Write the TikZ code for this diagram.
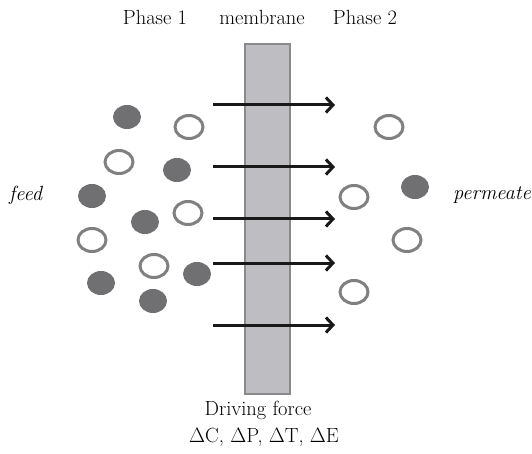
\documentclass[tikz,border=0pt]{standalone}
\usetikzlibrary{arrows.meta}
\definecolor{memfill}{RGB}{190,190,194}
\definecolor{memdraw}{RGB}{138,138,140}
\definecolor{dotfill}{RGB}{112,112,115}
\definecolor{ringcol}{RGB}{128,128,128}
\definecolor{arrcol}{RGB}{25,25,25}
\begin{document}
\begin{tikzpicture}[x=1pt,y=-1pt,
  lbl/.style={font=\fontsize{20.5}{22}\selectfont, inner sep=0pt},
  ilbl/.style={font=\fontsize{20.5}{22}\selectfont\itshape, inner sep=0pt},
  ring/.style={draw=ringcol, line width=3pt, fill=none},
  flow/.style={draw=arrcol, line width=3pt, -{Straight Barb[length=7pt,width=15pt,line width=3pt]}}]
\useasboundingbox (0,0) rectangle (532,454);
% membrane
\node[draw=memdraw, fill=memfill, line width=2pt, minimum width=45pt, minimum height=350pt, inner sep=0pt, anchor=north west] (mem) at (244,43) {};
% labels
\node[lbl] (p1) at (155,17) {Phase 1};
\node[lbl] (mb) at (262,17) {membrane};
\node[lbl] (p2) at (365,17) {Phase 2};
\node[ilbl, anchor=west] (feed) at (9,195) {feed};
\node[ilbl, anchor=east] (perm) at (531,195) {permeate};
\node[lbl] (df) at (258,410) {Driving force};
\node[lbl] (dl) at (264,437) {$\Delta$C, $\Delta$P, $\Delta$T, $\Delta$E};
% arrows
\foreach \i/\yy in {1/105,2/167,3/219,4/263,5/325}{
  \coordinate (s\i) at (213,\yy);
  \coordinate (e\i) at (335,\yy);
  \draw[flow] (s\i) -- (e\i);
}
% filled particles
\foreach \xx/\yy in {127/117,177/170,92/196,145/222,197/274,101/283,153/301,415/187}{
  \fill[dotfill] (\xx,\yy) ellipse[x radius=14, y radius=12];
}
% open particles
\foreach \xx/\yy in {189/127,119/162,188/213,92/240,154/266,389/127,354/197,407/240,354/292}{
  \draw[ring] (\xx,\yy) ellipse[x radius=14, y radius=11.5];
}
\end{tikzpicture}
\end{document}
